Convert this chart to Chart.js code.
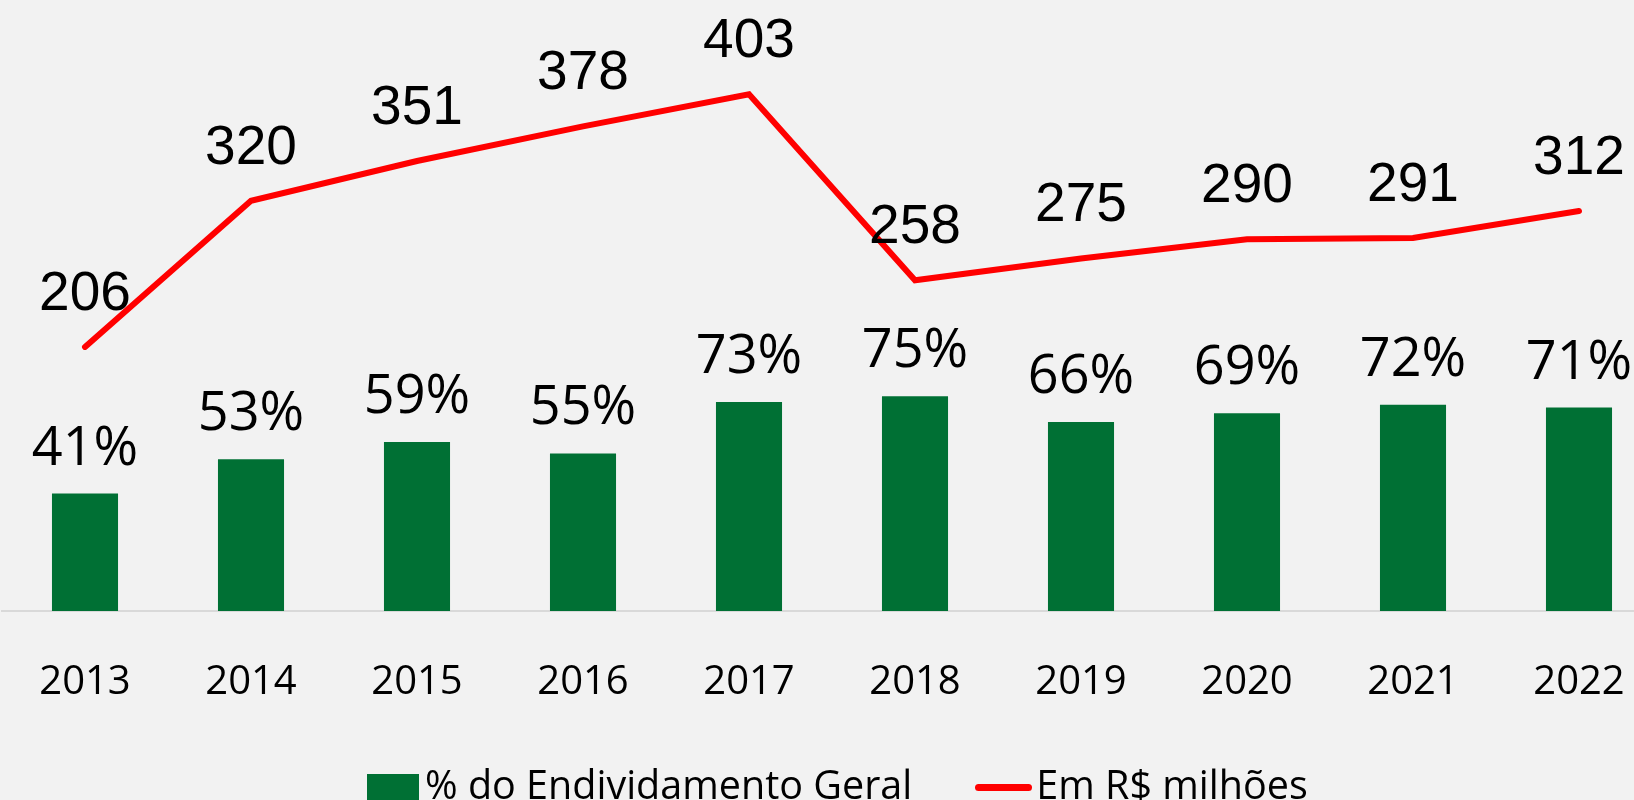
<!DOCTYPE html>
<html>
<head>
<meta charset="utf-8">
<title>Endividamento</title>
<script src="https://cdn.jsdelivr.net/npm/chart.js@4.4.1/dist/chart.umd.min.js"></script>
<style>
  html, body { margin: 0; padding: 0; width: 1634px; height: 800px; overflow: hidden; background: #f2f2f2; }
  #wrap { position: absolute; left: 0; top: 0; width: 1664px; height: 800px; }
  #legend { position: absolute; left: 367px; top: 765px; display: flex; align-items: flex-start;
            font-family: "Open Sans", sans-serif; font-size: 39.5px; line-height: 39px; color: #000; white-space: nowrap; }
  .item { display: flex; align-items: flex-start; }
  .item + .item { margin-left: 63px; }
  .swatch-bar { width: 52px; height: 30px; margin-top: 9px; margin-right: 6px; }
  .swatch-line { width: 57px; height: 7px; border-radius: 4px; margin-top: 19px; margin-right: 4px; }
</style>
</head>
<body>
<div id="wrap"><canvas id="chart" width="1664" height="800"></canvas></div>
<div id="legend"></div>
<script>
// Anos
const years = ['2013', '2014', '2015', '2016', '2017', '2018', '2019', '2020', '2021', '2022'];
// Participação no endividamento geral (%)
const debtShare = [41, 53, 59, 55, 73, 75, 66, 69, 72, 71];
// Endividamento em R$ milhões
const debtMillions = [206, 320, 351, 378, 403, 258, 275, 290, 291, 312];
const seriesNames = ['% do Endividamento Geral', 'Em R$ milhões'];

const GREEN = '#007034';
const RED = '#ff0000';

// Rótulos de valor acima das barras e dos pontos da linha
const valueLabels = {
  id: 'valueLabels',
  afterDatasetsDraw(chart) {
    const ctx = chart.ctx;
    ctx.save();
    ctx.fillStyle = '#000';
    ctx.textAlign = 'center';
    ctx.textBaseline = 'alphabetic';
    chart.data.datasets.forEach((ds, i) => {
      const meta = chart.getDatasetMeta(i);
      const isBar = meta.type === 'bar';
      ctx.font = isBar ? '54px "Open Sans"' : '55px "Liberation Sans"';
      meta.data.forEach((el, j) => {
        const v = ds.data[j];
        const text = isBar ? v + '%' : String(v);
        ctx.fillText(text, el.x, el.y - (isBar ? 29 : 37));
      });
    });
    ctx.restore();
  }
};

function build() {
  const chart = new Chart(document.getElementById('chart'), {
    type: 'bar',
    data: {
      labels: years,
      datasets: [
        {
          type: 'line',
          label: seriesNames[1],
          data: debtMillions,
          yAxisID: 'yMil',
          borderColor: RED,
          backgroundColor: RED,
          borderWidth: 6,
          borderCapStyle: 'round',
          borderJoinStyle: 'miter',
          tension: 0,
          pointRadius: 0,
          pointHoverRadius: 0,
          fill: false,
          order: 0
        },
        {
          type: 'bar',
          label: seriesNames[0],
          data: debtShare,
          yAxisID: 'yPct',
          backgroundColor: GREEN,
          borderWidth: 0,
          barPercentage: 0.398,
          categoryPercentage: 1,
          order: 1
        }
      ]
    },
    options: {
      responsive: false,
      animation: false,
      devicePixelRatio: 1,
      layout: { padding: { left: 2, right: 2, top: 0, bottom: 0 } },
      plugins: {
        legend: { display: false },
        tooltip: { enabled: false }
      },
      scales: {
        x: {
          offset: true,
          grid: { display: false, drawTicks: true, tickLength: 48 },
          border: { display: true, color: '#d9d9d9', width: 2 },
          ticks: {
            color: '#000',
            font: { family: '"Open Sans"', size: 40 },
            padding: 0,
            maxRotation: 0,
            autoSkip: false
          },
          afterFit(scale) { scale.height = 189; }
        },
        yPct: { display: false, min: 0, max: 213.3 },
        yMil: { display: false, min: 0, max: 476.6 }
      }
    },
    plugins: [valueLabels]
  });

  // Legenda construída a partir das séries do gráfico
  const legend = document.getElementById('legend');
  [chart.data.datasets[1], chart.data.datasets[0]].forEach(ds => {
    const item = document.createElement('div');
    item.className = 'item';
    const sw = document.createElement('span');
    if (ds.type === 'bar') {
      sw.className = 'swatch-bar';
      sw.style.background = ds.backgroundColor;
    } else {
      sw.className = 'swatch-line';
      sw.style.background = ds.borderColor;
    }
    const tx = document.createElement('span');
    tx.textContent = ds.label;
    item.appendChild(sw);
    item.appendChild(tx);
    legend.appendChild(item);
  });
}

Promise.all([
  document.fonts.load('54px "Open Sans"'),
  document.fonts.load('40px "Open Sans"'),
  document.fonts.load('55px "Liberation Sans"')
]).then(build, build);
</script>
</body>
</html>
